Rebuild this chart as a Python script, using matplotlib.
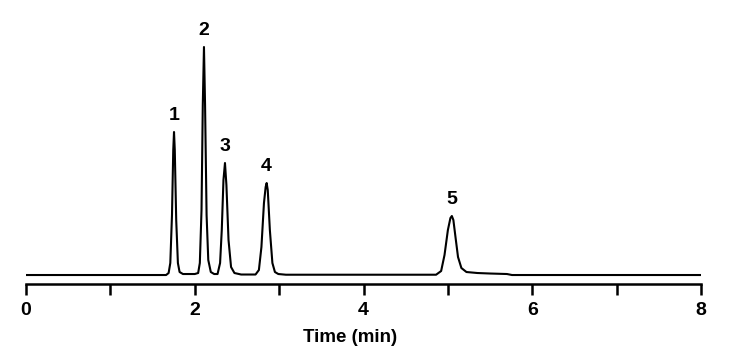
import numpy as np
import matplotlib
matplotlib.use("Agg")
import matplotlib.pyplot as plt

plt.rcParams['font.family'] = ['Liberation Sans', 'DejaVu Sans']

# trace: time (min) vs detector signal (arbitrary units)
time = [0.0, 1.66, 1.69, 1.71, 1.73, 1.745, 1.754, 1.763, 1.78, 1.80, 1.82, 1.86,
        2.00, 2.04, 2.06, 2.08, 2.095, 2.109, 2.122, 2.14, 2.16, 2.19, 2.23,
        2.27, 2.30, 2.32, 2.34, 2.358, 2.375, 2.40, 2.43, 2.47, 2.55,
        2.72, 2.76, 2.79, 2.82, 2.84, 2.852, 2.865, 2.89, 2.92, 2.95, 2.99, 3.08,
        4.86, 4.92, 4.96, 5.00, 5.03, 5.047, 5.065, 5.09, 5.12, 5.16, 5.22,
        5.35, 5.50, 5.70, 5.76, 8.0]
signal = [0, 0, 2, 12, 60, 125, 143, 125, 55, 12, 3, 1,
          1, 2, 12, 65, 170, 228, 170, 60, 15, 3, 1,
          1, 12, 45, 95, 112, 90, 35, 8, 2, 0.5,
          0.5, 5, 28, 72, 88, 92, 85, 45, 12, 3, 1, 0.3,
          0.3, 4, 20, 45, 57, 59, 55, 38, 18, 7, 3,
          2, 1.5, 1, 0, 0]

# peak labels
peak_time = [1.754, 2.109, 2.358, 2.852, 5.047]
peak_height = [143, 228, 112, 92, 59]
peak_name = ['1', '2', '3', '4', '5']

fig = plt.figure(figsize=(7.29, 3.56), dpi=100)
ax = fig.add_axes([0.0357, 0.2022, 0.9259, 0.7416])

ax.plot(time, signal, color='black', lw=1.5)
for t, h, n in zip(peak_time, peak_height, peak_name):
    ax.text(t, h + 17, n, ha='center', va='center', fontsize=14, fontweight='bold')

ax.set_xlim(0, 8)
ax.set_ylim(-9, 255)
for s in ['top', 'right', 'left']:
    ax.spines[s].set_visible(False)
ax.spines['bottom'].set_linewidth(1.8)
ax.set_yticks([])
ax.set_xticks(np.arange(0, 9, 1))
ax.set_xticklabels(['0', '', '2', '', '4', '', '6', '', '8'])
ax.tick_params(axis='x', direction='out', length=8, width=1.8, pad=5, labelsize=14)
for lab in ax.get_xticklabels():
    lab.set_fontweight('bold')
ax.set_xlabel('Time (min)', fontsize=13.5, fontweight='bold')
ax.xaxis.set_label_coords(0.48, -0.17)

fig.savefig('out.png', dpi=100)
